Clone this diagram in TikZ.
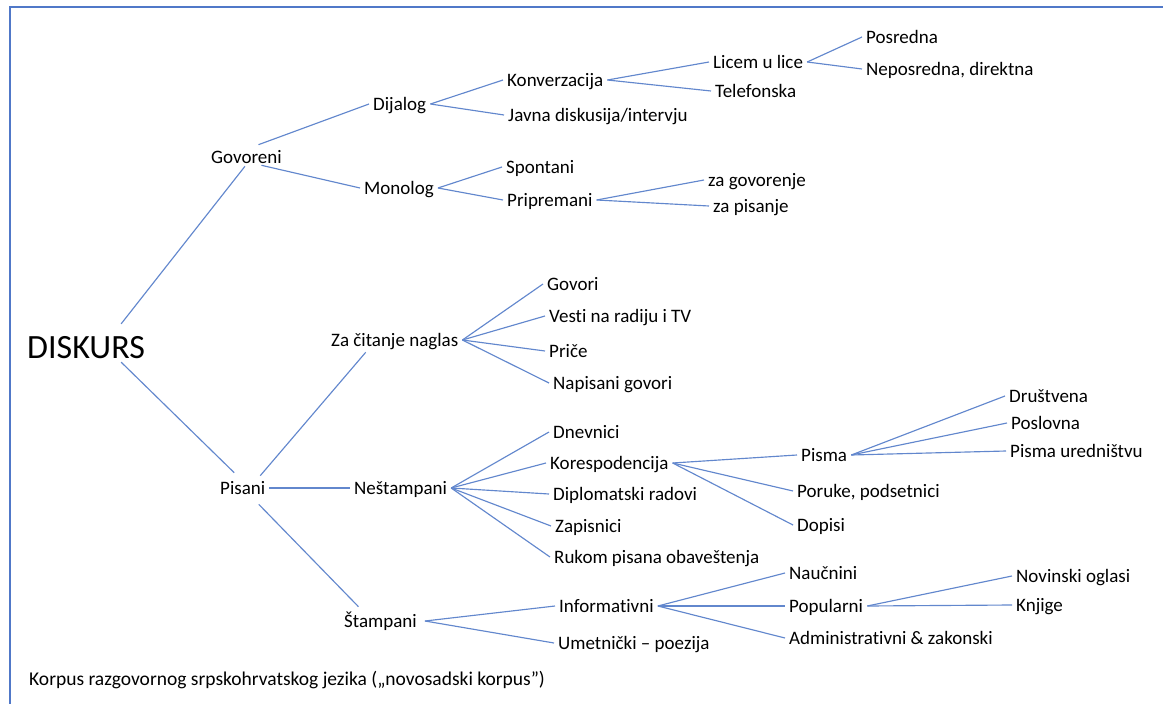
\documentclass[tikz,border=0pt]{standalone}
\usepackage{fontspec}
\setmainfont{Carlito}[Ligatures={NoCommon}]
\definecolor{linec}{RGB}{98,135,205}
\definecolor{framec}{RGB}{80,120,200}
\begin{document}
\begin{tikzpicture}[x=1pt,y=-1pt,
  lbl/.style={font=\fontsize{19}{22}\selectfont, inner xsep=4pt, inner ysep=0pt, text height=12.2pt, text depth=0pt, anchor=west},
  big/.style={font=\fontsize{34}{40}\selectfont, inner sep=0pt, text height=21.9pt, text depth=0pt, anchor=west},
  conn/.style={draw=linec, line width=1.15pt},
  frame/.style={draw=framec, line width=1.4pt}]
\useasboundingbox (0,0) rectangle (1163,704);
\draw[frame] (10,704) -- (10,7) -- (1163,7);

\node[big] (disk) at (27,348) {DISKURS};
\node[lbl] (gov) at (207,157) {Govoreni};
\node[lbl] (pis) at (216,488) {Pisani};
\node[lbl] (dij) at (369,104) {Dijalog};
\node[lbl] (mon) at (360,188) {Monolog};
\node[lbl] (konv) at (503,80) {Konverzacija};
\node[lbl] (javna) at (504,115) {Javna diskusija/intervju};
\node[lbl] (licem) at (709,62) {Licem u lice};
\node[lbl] (tel) at (711,91) {Telefonska};
\node[lbl] (posr) at (862,37) {Posredna};
\node[lbl] (neposr) at (862,69) {Neposredna, direktna};
\node[lbl] (spont) at (502,167) {Spontani};
\node[lbl] (prip) at (503,200) {Pripremani};
\node[lbl] (zagov) at (704,180) {za govorenje};
\node[lbl] (zapis) at (709,206) {za pisanje};
\node[lbl] (zacit) at (327,340) {Za čitanje naglas};
\node[lbl] (govori) at (543,284) {Govori};
\node[lbl] (vesti) at (545,316) {Vesti na radiju i TV};
\node[lbl] (price) at (545,351) {Priče};
\node[lbl] (napis) at (549,383) {Napisani govori};
\node[lbl] (nest) at (350,488) {Neštampani};
\node[lbl] (dnev) at (549,432) {Dnevnici};
\node[lbl] (kor) at (546,463) {Korespodencija};
\node[lbl] (dipl) at (549,494) {Diplomatski radovi};
\node[lbl] (zapisn) at (551,526) {Zapisnici};
\node[lbl] (rukom) at (550,557) {Rukom pisana obaveštenja};
\node[lbl] (pisma) at (797,455) {Pisma};
\node[lbl] (poruke) at (793,491) {Poruke, podsetnici};
\node[lbl] (dopisi) at (793,525) {Dopisi};
\node[lbl] (drus) at (1005,396) {Društvena};
\node[lbl] (posl) at (1007,423) {Poslovna};
\node[lbl] (pisur) at (1006,451) {Pisma uredništvu};
\node[lbl] (stamp) at (340,621) {Štampani};
\node[lbl] (inform) at (555,606) {Informativni};
\node[lbl] (umet) at (554,643) {Umetnički – poezija};
\node[lbl] (nauc) at (785,573) {Naučnini};
\node[lbl] (popul) at (785,606) {Popularni};
\node[lbl] (admin) at (785,638) {Administrativni \& zakonski};
\node[lbl] (novin) at (1012,576) {Novinski oglasi};
\node[lbl] (knj) at (1012,605) {Knjige};
\node[lbl, font=\fontsize{19.5}{22}\selectfont] (footer) at (25,679) {Korpus razgovornog srpskohrvatskog jezika („novosadski korpus”)};

\draw[conn] ([shift={(-24,-13)}]disk.north east) -- ([shift={(-1.5,3)}]gov.south);
\draw[conn] ([shift={(-24,3)}]disk.south east) -- ([shift={(-8.5,-9)}]pis.north);
\draw[conn] ([shift={(12,-6)}]gov.north) -- (dij.west);
\draw[conn] ([shift={(15,2)}]gov.south) -- (mon.west);
\draw[conn] ([shift={(17.5,-6)}]pis.north) -- ([shift={(-29,6)}]zacit.south);
\draw[conn] (pis.east) -- (nest.west);
\draw[conn] ([shift={(16,10)}]pis.south) -- ([shift={(-22,-8)}]stamp.north);
\foreach \c in {konv,javna} \draw[conn] (dij.east) -- (\c.west);
\foreach \c in {licem,tel} \draw[conn] (konv.east) -- (\c.west);
\foreach \c in {posr,neposr} \draw[conn] (licem.east) -- (\c.west);
\foreach \c in {spont,prip} \draw[conn] (mon.east) -- (\c.west);
\foreach \c in {zagov,zapis} \draw[conn] (prip.east) -- (\c.west);
\foreach \c in {govori,vesti,price,napis} \draw[conn] (zacit.east) -- (\c.west);
\foreach \c in {dnev,kor,dipl,zapisn,rukom} \draw[conn] (nest.east) -- (\c.west);
\foreach \c in {pisma,poruke,dopisi} \draw[conn] (kor.east) -- (\c.west);
\foreach \c in {drus,posl,pisur} \draw[conn] (pisma.east) -- (\c.west);
\foreach \c in {inform,umet} \draw[conn] ([xshift=4pt]stamp.east) -- (\c.west);
\foreach \c in {nauc,popul,admin} \draw[conn] (inform.east) -- (\c.west);
\foreach \c in {novin,knj} \draw[conn] (popul.east) -- (\c.west);
\end{tikzpicture}
\end{document}
